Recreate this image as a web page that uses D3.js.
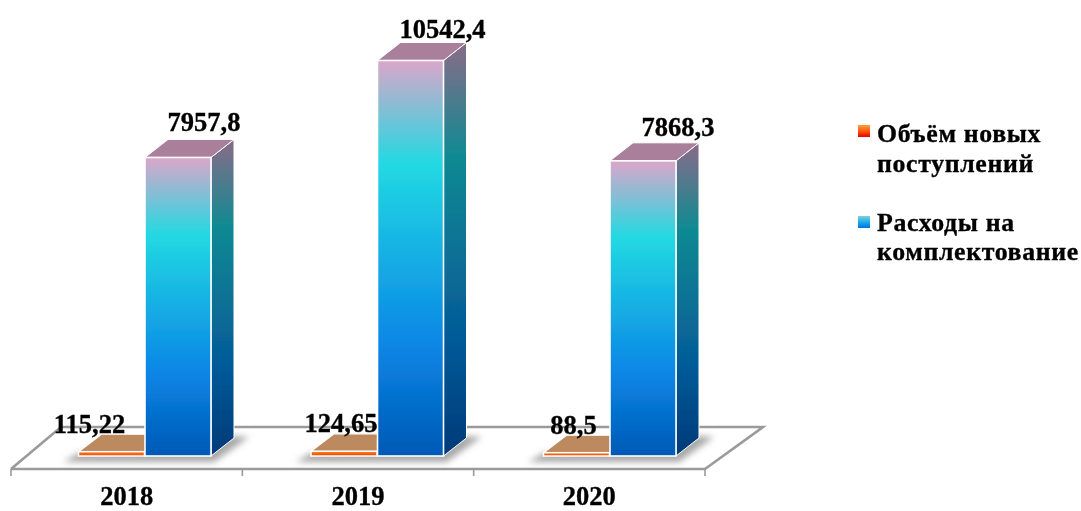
<!DOCTYPE html>
<html><head><meta charset="utf-8">
<script src="https://cdnjs.cloudflare.com/ajax/libs/d3/7.8.5/d3.min.js"></script>
<style>html,body{margin:0;padding:0;background:#fff}svg{display:block}
text{font-family:"Liberation Serif",serif;font-weight:bold;fill:#000;stroke:#000;stroke-width:.35px}</style></head><body>
<svg id="c" width="1081" height="511"></svg>
<script>
const categories = ["2018","2019","2020"];
const newItems = [115.22,124.65,88.5];
const newItemLabels = ["115,22","124,65","88,5"];
const spending = [7957.8,10542.4,7868.3];
const spendingLabels = ["7957,8","10542,4","7868,3"];
const legendLines = [["Объём новых","поступлений"],["Расходы на","комплектование"]];

const W=1081,H=511, baseY=456, DX=23, DY=18, floorFront=469, floorBack=427;
const svg=d3.select("#c");
const defs=svg.append("defs");
function grad(id,stops){const g=defs.append("linearGradient").attr("id",id).attr("x1",0).attr("x2",0).attr("y1",0).attr("y2",1);
 stops.forEach(s=>g.append("stop").attr("offset",s[0]).attr("stop-color",s[1]));}
grad("front",[[0,"#dba6ca"],[.26,"#22d9e2"],[.72,"#0a86e6"],[1,"#0059b5"]]);
grad("side",[[0,"#8a6a88"],[.27,"#118a92"],[.72,"#045a98"],[1,"#003a78"]]);
grad("oFront",[[0,"#ff7a20"],[1,"#f04a00"]]);
grad("lgO",[[0,"#ffa040"],[.5,"#ff5a10"],[1,"#e80000"]]);
grad("lgB",[[0,"#8fc8e0"],[.5,"#18b0e8"],[1,"#0070e0"]]);
defs.append("filter").attr("id","sh").attr("x","-20%").attr("y","-50%").attr("width","140%").attr("height","200%")
 .append("feGaussianBlur").attr("stdDeviation",3);
defs.append("filter").attr("id","soft").append("feGaussianBlur").attr("stdDeviation",.4);

const xAxis=d3.scaleBand().domain(categories).range([11,705]);
const xBar=d3.scaleBand().domain(categories).range([11.5,709]);
const y=d3.scaleLinear().domain([0,10542.4]).range([baseY,60.5]);
const barW=66, slot=d=>xBar(d)+133.5;

// floor
const floor=svg.append("g").attr("fill","none").attr("stroke","#9a9a9a").attr("stroke-width",2.6);
const line=d3.line();
const x0=xAxis.range()[0], x1=xAxis.range()[1], skew=58;
floor.append("path").attr("d",line([[x0,floorFront],[x0+skew-8,floorBack],[x1+skew,floorBack],[x1,floorFront],[x0,floorFront]]));
[...categories.map(c=>xAxis(c)),x1].forEach(t=>floor.append("line").attr("x1",t).attr("x2",t).attr("y1",floorFront).attr("y2",floorFront+7).attr("stroke-width",1.6));

const g=svg.append("g").attr("filter","url(#soft)");
const pts=a=>a.map(p=>p.join(",")).join(" ");
categories.forEach((c,i)=>{
 const bx=slot(c), ox=bx-barW-.5;
 g.append("polygon").attr("filter","url(#sh)").attr("fill","#a8a8a8")
  .attr("points",pts([[ox-15,baseY+6],[bx+barW+3,baseY+6],[bx+barW+38,baseY-19],[bx+barW+20,baseY-20],[bx,baseY-5],[ox,baseY-3]]));
 // orange box
 const ot=y(newItems[i]);
 g.append("polygon").attr("fill","#bd8a5f").attr("stroke","#fff").attr("stroke-width",1.3)
  .attr("points",pts([[ox,ot],[ox+DX,ot-DY+.5],[ox+barW+DX,ot-DY+.5],[ox+barW,ot]]));
 g.append("rect").attr("x",ox).attr("y",ot).attr("width",barW).attr("height",baseY-ot)
  .attr("fill","url(#oFront)").attr("stroke","#fff").attr("stroke-width",1.5);
 // blue box
 const t=y(spending[i]);
 g.append("polygon").attr("fill","url(#side)").attr("stroke","#fff").attr("stroke-width",1)
  .attr("points",pts([[bx+barW,t],[bx+barW+DX,t-DY],[bx+barW+DX,baseY-DY],[bx+barW,baseY]]));
 g.append("polygon").attr("fill","#a97f9c").attr("stroke","#fff").attr("stroke-width",1)
  .attr("points",pts([[bx,t],[bx+DX,t-DY],[bx+barW+DX,t-DY],[bx+barW,t]]));
 g.append("rect").attr("x",bx).attr("y",t).attr("width",barW).attr("height",baseY-t)
  .attr("fill","url(#front)").attr("stroke","#fff").attr("stroke-width",1.6);
});

// value labels
const fs=26.5, blueNudge=[59,65,68], blueRise=[26,23,25], orangeNudge=[11,30,30];
categories.forEach((c,i)=>{
 const bx=slot(c), ox=bx-barW-.5;
 svg.append("text").attr("x",bx+blueNudge[i]).attr("y",y(spending[i])-blueRise[i]).attr("text-anchor","middle").attr("font-size",fs).text(spendingLabels[i]);
 svg.append("text").attr("x",ox+orangeNudge[i]).attr("y",y(newItems[i])-19).attr("text-anchor","middle").attr("font-size",fs).text(newItemLabels[i]);
 svg.append("text").attr("x",xAxis(c)+xAxis.bandwidth()/2).attr("y",505).attr("text-anchor","middle").attr("font-size",fs).text(c);
});

// legend
[["lgO",125,[142,172]],["lgB",216,[231,260]]].forEach((l,i)=>{
 svg.append("rect").attr("x",858).attr("y",l[1]).attr("width",12).attr("height",12).attr("fill",`url(#${l[0]})`);
 legendLines[i].forEach((s,j)=>svg.append("text").attr("x",877).attr("y",l[2][j]).attr("font-size",25.8).attr("letter-spacing",.65).text(s));
});
</script></body></html>
